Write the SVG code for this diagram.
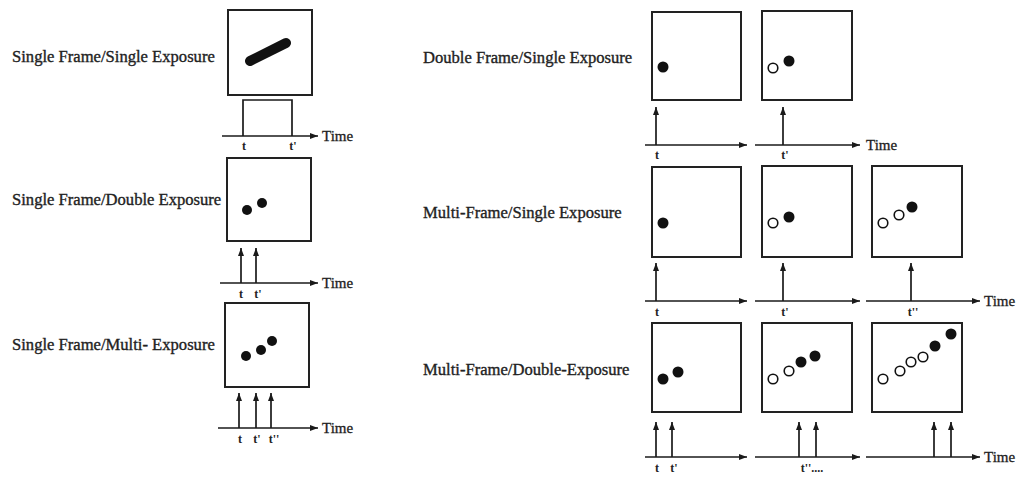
<svg xmlns="http://www.w3.org/2000/svg" width="1017" height="487" viewBox="0 0 1017 487">
<defs>
<marker id="ah" markerUnits="userSpaceOnUse" markerWidth="9" markerHeight="7" refX="8" refY="3" orient="auto">
<path d="M0,0 L8,3 L0,6 z" fill="#1a1a1a"/>
</marker>
<style>
.frame{fill:#fff;stroke:#222;stroke-width:2}
.lbl{font-family:"Liberation Serif","Times New Roman",serif;font-size:16.6px;fill:#222;stroke:#222;stroke-width:0.35}
.tk{font-family:"Liberation Serif","Times New Roman",serif;font-size:12px;font-weight:bold;fill:#222;text-anchor:middle}
.tm{font-family:"Liberation Serif","Times New Roman",serif;font-size:15px;fill:#222;stroke:#222;stroke-width:0.3}
.ax{fill:none;stroke:#1a1a1a;stroke-width:1.7;marker-end:url(#ah)}
.pl{fill:none;stroke:#1a1a1a;stroke-width:1.7}
.f{fill:#111}
.o{fill:#fff;stroke:#111;stroke-width:1.6}
</style>
</defs>
<rect width="1017" height="487" fill="#fff"/>

<g id="sfse">
<text class="lbl" x="12" y="62">Single Frame/Single Exposure</text>
<rect class="frame" x="228" y="10" width="84" height="85"/>
<line x1="250" y1="61" x2="286" y2="43" stroke="#111" stroke-width="10" stroke-linecap="round"/>
</g>
<g id="sfde">
<text class="lbl" x="12" y="205">Single Frame/Double Exposure</text>
<rect class="frame" x="227" y="158" width="84" height="83"/>
<circle class="f" cx="247" cy="210" r="5"/>
<circle class="f" cx="262" cy="203" r="5"/>
</g>
<g id="sfme">
<text class="lbl" x="12" y="350">Single Frame/Multi- Exposure</text>
<rect class="frame" x="225" y="303" width="84" height="84"/>
<circle class="f" cx="246" cy="356" r="5"/>
<circle class="f" cx="261" cy="350" r="5"/>
<circle class="f" cx="272" cy="341" r="5"/>
</g>

<g id="dfse">
<text class="lbl" x="423" y="63">Double Frame/Single Exposure</text>
<rect class="frame" x="652" y="12" width="89" height="88"/>
<circle class="f" cx="663" cy="67" r="5.5"/>
<rect class="frame" x="762" y="11" width="90" height="89"/>
<circle class="o" cx="773" cy="68" r="4.8"/>
<circle class="f" cx="789" cy="61" r="5.5"/>
</g>
<g id="mfse">
<text class="lbl" x="423" y="218">Multi-Frame/Single Exposure</text>
<rect class="frame" x="652" y="167" width="89" height="90"/>
<circle class="f" cx="663" cy="223" r="5.5"/>
<rect class="frame" x="762" y="166" width="90" height="91"/>
<circle class="o" cx="773" cy="223" r="4.8"/>
<circle class="f" cx="789" cy="217" r="5.5"/>
<rect class="frame" x="872" y="166" width="90" height="91"/>
<circle class="o" cx="883" cy="223" r="4.8"/>
<circle class="o" cx="899" cy="215" r="4.8"/>
<circle class="f" cx="912" cy="207" r="5.5"/>
</g>
<g id="mfde">
<text class="lbl" x="423" y="375">Multi-Frame/Double-Exposure</text>
<rect class="frame" x="652" y="323" width="89" height="89"/>
<circle class="f" cx="663" cy="379" r="5.5"/>
<circle class="f" cx="678" cy="372" r="5.5"/>
<rect class="frame" x="762" y="323" width="90" height="89"/>
<circle class="o" cx="773" cy="379" r="4.8"/>
<circle class="o" cx="789" cy="371" r="4.8"/>
<circle class="f" cx="801" cy="362" r="5.5"/>
<circle class="f" cx="815" cy="356" r="5.5"/>
<rect class="frame" x="872" y="323" width="90" height="89"/>
<circle class="o" cx="883" cy="379" r="4.8"/>
<circle class="o" cx="900" cy="371" r="4.8"/>
<circle class="o" cx="911" cy="362" r="4.8"/>
<circle class="o" cx="923" cy="357" r="4.8"/>
<circle class="f" cx="935" cy="346" r="5.5"/>
<circle class="f" cx="951" cy="334" r="5.5"/>
</g>

<g id="connectors">
<path class="pl" d="M243,136 V100 H292 V136"/>
<line class="ax" x1="222" y1="136" x2="318" y2="136"/>
<text class="tm" x="322" y="141">Time</text>
<text class="tk" x="244" y="150">t</text>
<text class="tk" x="293" y="150">t'</text>

<line class="ax" x1="220" y1="283" x2="318" y2="283"/>
<line class="ax" x1="241" y1="283" x2="241" y2="248"/>
<line class="ax" x1="256" y1="283" x2="256" y2="248"/>
<text class="tm" x="322" y="288">Time</text>
<text class="tk" x="241" y="298">t</text>
<text class="tk" x="258" y="298">t'</text>

<line class="ax" x1="218" y1="428" x2="318" y2="428"/>
<line class="ax" x1="239" y1="428" x2="239" y2="393"/>
<line class="ax" x1="256" y1="428" x2="256" y2="393"/>
<line class="ax" x1="271" y1="428" x2="271" y2="393"/>
<text class="tm" x="322" y="433">Time</text>
<text class="tk" x="240" y="443">t</text>
<text class="tk" x="257" y="443">t'</text>
<text class="tk" x="274" y="443">t''</text>

<line class="ax" x1="645" y1="145" x2="747" y2="145"/>
<line class="ax" x1="755" y1="145" x2="860" y2="145"/>
<line class="ax" x1="656" y1="145" x2="656" y2="107"/>
<line class="ax" x1="783" y1="145" x2="783" y2="107"/>
<text class="tm" x="866" y="150">Time</text>
<text class="tk" x="657" y="159">t</text>
<text class="tk" x="785" y="159">t'</text>

<line class="ax" x1="645" y1="301" x2="747" y2="301"/>
<line class="ax" x1="755" y1="301" x2="860" y2="301"/>
<line class="ax" x1="866" y1="301" x2="980" y2="301"/>
<line class="ax" x1="656" y1="301" x2="656" y2="263"/>
<line class="ax" x1="783" y1="301" x2="783" y2="263"/>
<line class="ax" x1="911" y1="301" x2="911" y2="263"/>
<text class="tm" x="984" y="306">Time</text>
<text class="tk" x="657" y="316">t</text>
<text class="tk" x="785" y="316">t'</text>
<text class="tk" x="913" y="316">t''</text>

<line class="ax" x1="645" y1="457" x2="747" y2="457"/>
<line class="ax" x1="755" y1="457" x2="860" y2="457"/>
<line class="ax" x1="866" y1="457" x2="980" y2="457"/>
<line class="ax" x1="656" y1="457" x2="656" y2="422"/>
<line class="ax" x1="672" y1="457" x2="672" y2="422"/>
<line class="ax" x1="799" y1="457" x2="799" y2="422"/>
<line class="ax" x1="816" y1="457" x2="816" y2="422"/>
<line class="ax" x1="934" y1="457" x2="934" y2="422"/>
<line class="ax" x1="951" y1="457" x2="951" y2="422"/>
<text class="tm" x="984" y="462">Time</text>
<text class="tk" x="657" y="472">t</text>
<text class="tk" x="674" y="472">t'</text>
<text class="tk" x="812" y="472">t''....</text>
</g>
</svg>
